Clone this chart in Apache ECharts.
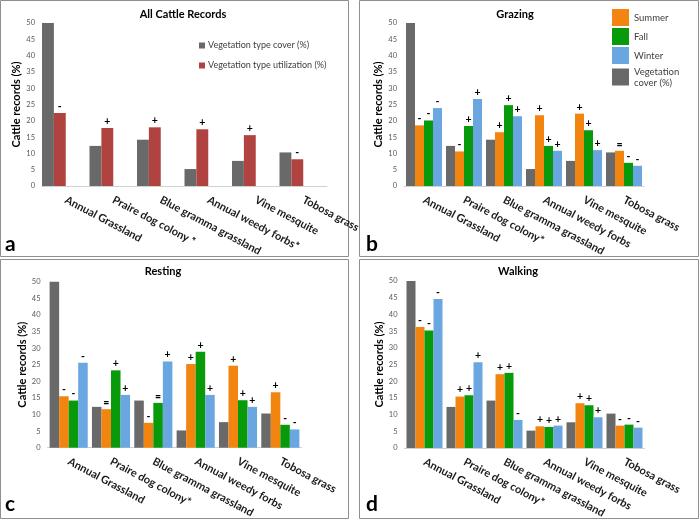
<!DOCTYPE html>
<html>
<head>
<meta charset="utf-8">
<script src="https://cdn.jsdelivr.net/npm/echarts@6/dist/echarts.min.js"></script>
<style>html,body{margin:0;padding:0;background:#fff;}#c{width:700px;height:520px;}</style>
</head>
<body>
<div id="c"></div>
<script>
// ---- data ----
const categoriesA = ["Annual Grassland", "Praire dog colony *", "Blue gramma grassland", "Annual weedy forbs*", "Vine mesquite", "Tobosa grass"];
const categoriesBCD = ["Annual Grassland", "Praire dog colony*", "Blue gramma grassland", "Annual weedy forbs", "Vine mesquite", "Tobosa grass"];
const yTickStep = 5, yMin = 0, yMax = 50;

const vegCover = [50, 12.3, 14.2, 5.2, 7.7, 10.3];

const allUtil = [22.4, 17.8, 18.0, 17.4, 15.6, 8.2];
const allUtilSig = ["-", "+", "+", "+", "+", "-"];

const grazingSummer = [18.6, 10.6, 16.5, 21.7, 22.2, 10.8];
const grazingFall = [20.1, 18.4, 24.8, 12.3, 17.1, 7.1];
const grazingWinter = [23.9, 26.7, 21.4, 10.8, 11.0, 6.2];
const grazingSummerSig = ["-", "-", "+", "+", "+", "="];
const grazingFallSig = ["-", "+", "+", "+", "+", "-"];
const grazingWinterSig = ["-", "+", "+", "+", "+", "-"];

const restingSummer = [15.5, 11.6, 7.5, 25.2, 24.7, 16.7];
const restingFall = [14.2, 23.3, 13.5, 28.9, 14.3, 6.9];
const restingWinter = [25.6, 15.9, 26.0, 15.9, 12.3, 5.5];
const restingSummerSig = ["-", "=", "-", "+", "+", "+"];
const restingFallSig = ["-", "+", "=", "+", "+", "-"];
const restingWinterSig = ["-", "+", "+", "+", "+", "-"];

const walkingSummer = [36.2, 15.4, 22.1, 6.5, 13.4, 6.7];
const walkingFall = [35.2, 15.8, 22.5, 6.3, 12.8, 7.0];
const walkingWinter = [44.6, 25.7, 8.4, 6.7, 9.2, 6.1];
const walkingSummerSig = ["-", "+", "+", "+", "+", "-"];
const walkingFallSig = ["-", "+", "+", "+", "+", "-"];
const walkingWinterSig = ["-", "+", "-", "+", "+", "-"];

const panelTitles = ["All Cattle Records", "Grazing", "Resting", "Walking"];
const panelLetters = ["a", "b", "c", "d"];
const seasonNames = ["Summer", "Fall", "Winter"];
const coverNameA = "Vegetation type cover (%)";
const utilNameA = "Vegetation type utilization (%)";
const coverNameBCD = "Vegetation\ncover (%)";
const yAxisName = "Cattle records (%)";

// ---- style ----
const FONT = "Lato";
const C_GRAY = "#696969", C_RED = "#b0433f", C_ORANGE = "#f2850f", C_GREEN = "#089a0a", C_BLUE = "#6aa6e0";
const seasonColors = [C_ORANGE, C_GREEN, C_BLUE];

const grids = [
  {left: 42, top: 23, width: 285, height: 163, outerBoundsMode: 'none', containLabel: false},
  {left: 404, top: 23, width: 240, height: 163, outerBoundsMode: 'none', containLabel: false},
  {left: 47.5, top: 281.7, width: 254, height: 166, outerBoundsMode: 'none', containLabel: false},
  {left: 404.5, top: 281, width: 240, height: 167, outerBoundsMode: 'none', containLabel: false}
];

function xAx(i, cats) {
  return {
    type: 'category', gridIndex: i, data: cats,
    axisLine: {lineStyle: {color: '#d0d0d0', width: 1}},
    axisTick: {show: false},
    axisLabel: {interval: 0, rotate: -28, margin: 13, hideOverlap: false, fontFamily: FONT, fontWeight: 'bold', fontSize: 11, color: '#1a1a1a'}
  };
}
function yAx(i) {
  return {
    type: 'value', gridIndex: i, min: yMin, max: yMax, interval: yTickStep,
    name: yAxisName, nameLocation: 'middle', nameGap: 20, nameRotate: 90,
    nameTextStyle: {fontFamily: FONT, fontWeight: 'bold', fontSize: 11, color: '#000', padding: [0, 0, 0, 0]},
    axisLine: {show: false}, axisTick: {show: false}, splitLine: {show: false},
    axisLabel: {fontFamily: FONT, fontSize: 7.5, color: '#595959', margin: 7}
  };
}
function bar(i, name, data, color, sig, gapPct) {
  const s = {
    type: 'bar', name: name, xAxisIndex: i, yAxisIndex: i, data: data,
    barGap: '0%', barCategoryGap: gapPct,
    itemStyle: {color: color},
    emphasis: {disabled: true}
  };
  if (sig) {
    s.label = {show: true, position: 'top', distance: 1, fontFamily: FONT, fontWeight: 'bold', fontSize: 10.5, color: '#000',
      formatter: p => sig[p.dataIndex]};
  }
  return s;
}

const series = [];
// panel a
series.push(bar(0, coverNameA, vegCover, C_GRAY, null, '0%'));
series.push(bar(0, utilNameA, allUtil, C_RED, allUtilSig, '0%'));
series.push(bar(0, 'spacer1', categoriesA.map(() => null), 'rgba(0,0,0,0)', null, '0%'));
series.push(bar(0, 'spacer2', categoriesA.map(() => null), 'rgba(0,0,0,0)', null, '0%'));
// panels b, c, d
const panelSeasons = [
  [[grazingSummer, grazingSummerSig], [grazingFall, grazingFallSig], [grazingWinter, grazingWinterSig]],
  [[restingSummer, restingSummerSig], [restingFall, restingFallSig], [restingWinter, restingWinterSig]],
  [[walkingSummer, walkingSummerSig], [walkingFall, walkingFallSig], [walkingWinter, walkingWinterSig]]
];
panelSeasons.forEach((ps, k) => {
  const i = k + 1;
  series.push(bar(i, coverNameBCD, vegCover, C_GRAY, null, '10%'));
  ps.forEach((d, j) => series.push(bar(i, seasonNames[j], d[0], seasonColors[j], d[1], '10%')));
});

const titleCenters = [[178, 4], [510, 4], [158, 261], [513, 261]];
const titles = panelTitles.map((t, i) => ({
  text: t, left: titleCenters[i][0], top: titleCenters[i][1], textAlign: 'center',
  textStyle: {fontFamily: FONT, fontWeight: 'bold', fontSize: 11, color: '#000'}
}));

const boxes = [[0.5, 0.5, 348, 256], [359.5, 0.5, 339, 256], [0.5, 259.5, 348, 259], [359.5, 259.5, 339, 259]];
const letterPos = [[5, 234], [366, 234], [5, 494], [366, 494]];
const graphic = [];
boxes.forEach(b => graphic.push({type: 'rect', shape: {x: b[0], y: b[1], width: b[2], height: b[3]}, style: {fill: 'none', stroke: '#8f8f8f', lineWidth: 1}, z: -1, silent: true}));
panelLetters.forEach((l, i) => graphic.push({type: 'text', left: letterPos[i][0], top: letterPos[i][1], style: {text: l, fontFamily: FONT, fontWeight: 'bold', fontSize: 21, fill: '#000'}, silent: true}));

const option = {
  animation: false,
  title: titles,
  legend: [
    {data: [coverNameA, utilNameA], orient: 'vertical', left: 194, top: 36, itemWidth: 6, itemHeight: 6, itemGap: 11, selectedMode: false, icon: 'rect',
     textStyle: {fontFamily: FONT, fontSize: 9, color: '#404040', padding: [0, 0, 0, -2]}},
    {data: [seasonNames[0], seasonNames[1], seasonNames[2], coverNameBCD], orient: 'vertical', left: 607, top: 4, itemWidth: 17, itemHeight: 17, itemGap: 2, selectedMode: false, icon: 'rect',
     textStyle: {fontFamily: FONT, fontSize: 9.5, color: '#404040', lineHeight: 11}}
  ],
  grid: grids,
  xAxis: [xAx(0, categoriesA), xAx(1, categoriesBCD), xAx(2, categoriesBCD), xAx(3, categoriesBCD)],
  yAxis: [yAx(0), yAx(1), yAx(2), yAx(3)],
  series: series,
  graphic: graphic
};
const chart = echarts.init(document.getElementById('c'), null, {renderer: 'canvas'});
chart.setOption(option);
</script>
</body>
</html>
